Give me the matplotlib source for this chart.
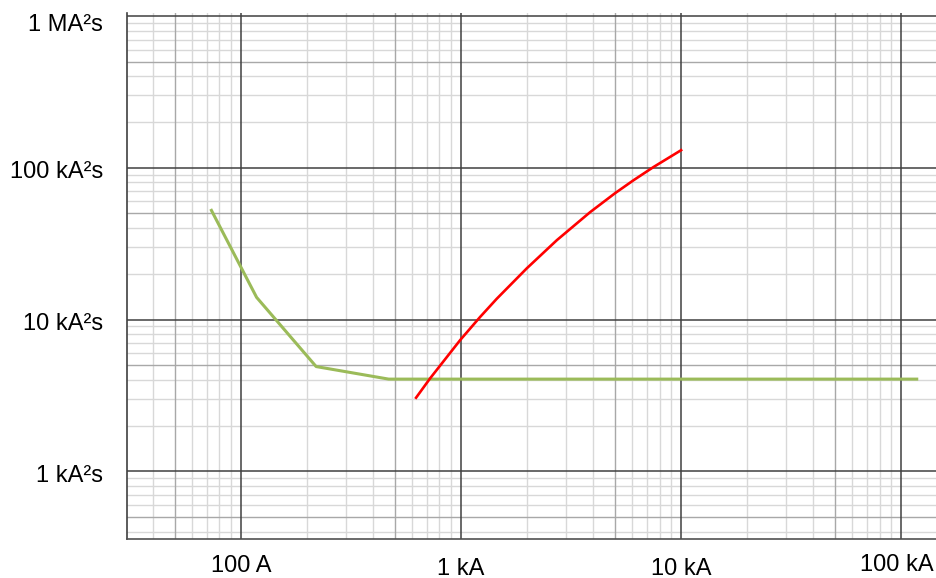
import matplotlib
matplotlib.use("Agg")
import matplotlib.pyplot as plt
import matplotlib.transforms as mtransforms
import numpy as np

plt.rcParams['font.family'] = ['Liberation Sans', 'DejaVu Sans']

# ---- data ----
green_I = [73, 118, 220, 470, 120000]
green_I2t = [53500, 14000, 4900, 4050, 4050]

red_I = [626, 725, 993, 1224, 1457, 1995, 2732, 3870, 5027, 6088, 7509, 10030]
red_I2t = [3053, 4095, 7318, 10400, 13710, 21750, 33340, 51000, 68040, 82680, 101100, 130600]

x_ticks = [100, 1000, 10000, 100000]
x_labels = ['100 A', '1 kA', '10 kA', '100 kA']
y_ticks = [1e3, 1e4, 1e5, 1e6]
y_labels = ['1 kA²s', '10 kA²s', '100 kA²s', '1 MA²s']

XMIN, XMAX = 30.3, 146000
YMIN, YMAX = 358, 1.047e6

# ---- figure ----
fig = plt.figure(figsize=(9.37, 5.78), dpi=100)
W, H = 937, 578
left, right, top, bottom = 126.7, 937, 13, 539
ax = fig.add_axes([left / W, 1 - bottom / H, (right - left) / W, (bottom - top) / H])

ax.set_xscale('log')
ax.set_yscale('log')
ax.set_xlim(XMIN, XMAX)
ax.set_ylim(YMIN, YMAX)

ax.set_xticks(x_ticks)
ax.set_xticklabels(x_labels)
ax.set_yticks(y_ticks)
ax.set_yticklabels(y_labels)
ax.minorticks_off()
ax.tick_params(which='both', length=0)
ax.tick_params(axis='x', labelsize=17, pad=12)
ax.tick_params(axis='y', labelsize=17, pad=17)

# ---- grid drawn manually: light minors, medium "5" lines, dark majors on top ----
light, mid, dark = '#d8d8d8', '#a8a8a8', '#404040'
for d in range(1, 6):
    for m in range(2, 10):
        v = m * 10 ** d
        if XMIN < v < XMAX:
            ax.axvline(v, color=mid if m == 5 else light, lw=1.0, zorder=1 if m != 5 else 1.5)
for d in range(2, 7):
    for m in range(2, 10):
        v = m * 10 ** d
        if YMIN < v < YMAX:
            ax.axhline(v, color=mid if m == 5 else light, lw=1.0, zorder=1 if m != 5 else 1.5)
for v in x_ticks:
    ax.axvline(v, color=dark, lw=1.1, zorder=2)
for v in y_ticks:
    ax.axhline(v, color=dark, lw=1.1, zorder=2)

for s in ('top', 'right'):
    ax.spines[s].set_visible(False)
ax.spines['left'].set_color('#404040')
ax.spines['bottom'].set_color('#505050')
ax.spines['left'].set_linewidth(1.2)
ax.spines['bottom'].set_linewidth(1.2)
ax.spines['left'].set_zorder(2.5)
ax.spines['bottom'].set_zorder(2.5)

ax.plot(green_I, green_I2t, color='#9bbb59', linewidth=2.2, solid_capstyle='butt', zorder=3)
ax.plot(red_I, red_I2t, color='#ff0000', linewidth=1.9, solid_joinstyle='round', zorder=4)

# label offsets (px) to match reference staggering
x_off = [(0, 1), (0, -2), (0, -2), (-4, 2)]
for lab, (dx, dy) in zip(ax.get_xticklabels(), x_off):
    lab.set_transform(lab.get_transform() + mtransforms.Affine2D().translate(dx, dy))
y_off = [-2, -2, -2, -6]
for lab, off in zip(ax.get_yticklabels(), y_off):
    lab.set_transform(lab.get_transform() + mtransforms.Affine2D().translate(0, off))

fig.savefig('out.png', dpi=100)
